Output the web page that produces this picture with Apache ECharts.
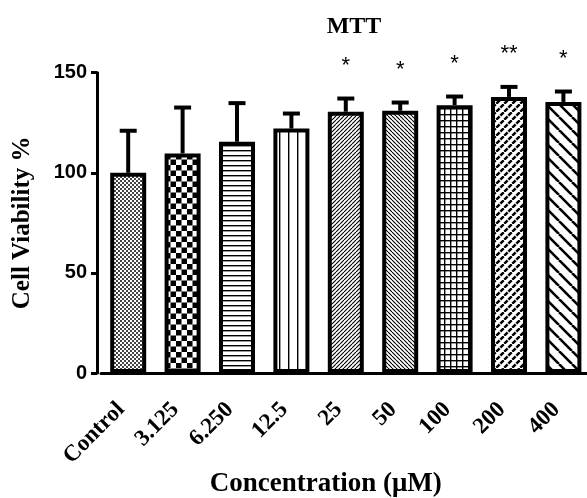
<!DOCTYPE html>
<html><head><meta charset="utf-8">
<script src="https://cdn.jsdelivr.net/npm/echarts@6/dist/echarts.min.js"></script>
<style>html,body{margin:0;padding:0;background:#fff}#c{width:587px;height:498px}</style>
</head><body><div id="c"></div>
<script>
const categories = ['Control','3.125','6.250','12.5','25','50','100','200','400'];
const means = [100, 109.7, 115.5, 122.1, 130.5, 131, 133.8, 137.9, 135.4];
const sds = [21, 22.9, 19.3, 7.5, 6.6, 4.1, 4.3, 5.0, 5.2];
const stars = ['', '', '', '', '*', '*', '*', '**', '*'];
const yTicks = [0, 50, 100, 150];
const patternNames = ['fineChecker','checker','hLines','vLines','fwdFine','backFine','grid','weave','backWide'];

function makePattern(name){
  const c = document.createElement('canvas');
  const sizes = {fineChecker:4, checker:11, hLines:5, vLines:9, fwdFine:4, backFine:4, grid:6, weave:8, backWide:13};
  const s = sizes[name];
  c.width = s; c.height = s;
  const g = c.getContext('2d');
  g.fillStyle = '#fff'; g.fillRect(0,0,s,s);
  g.fillStyle = '#000'; g.strokeStyle = '#000';
  function diag(back, w){
    g.lineWidth = w; g.beginPath();
    for (let k=-1;k<=1;k++){
      if (back){ g.moveTo(k*s,0); g.lineTo(k*s+s,s); }
      else { g.moveTo(k*s,s); g.lineTo(k*s+s,0); }
    }
    g.stroke();
  }
  if (name==='fineChecker'){ g.fillStyle='#444'; g.fillRect(0,0,2,2); g.fillRect(2,2,2,2); }
  else if (name==='checker'){ const h=Math.floor(s/2); g.fillRect(0,0,h+0.5,h+0.5); g.fillRect(h+0.5,h+0.5,s,s); }
  else if (name==='hLines'){ g.fillRect(0,0,s,1.4); }
  else if (name==='vLines'){ g.fillRect(0,0,1.4,s); }
  else if (name==='fwdFine'){ diag(false,1.1); }
  else if (name==='backFine'){ diag(true,1.1); }
  else if (name==='grid'){ g.fillRect(0,0,s,1.4); g.fillRect(0,0,1.4,s); }
  else if (name==='weave'){ diag(false,2.6); g.strokeStyle='#fff'; diag(true,1.2); }
  else if (name==='backWide'){ diag(true,2.6); }
  return c;
}

const barData = means.map((v,i)=>({value:v, itemStyle:{color:{image:makePattern(patternNames[i]), repeat:'repeat'}}}));
const errData = means.map((v,i)=>[i, v, v+sds[i]]);

const chart = echarts.init(document.getElementById('c'), null, {renderer:'canvas'});
chart.setOption({
  animation:false,
  backgroundColor:'#fff',
  graphic:[{type:'text', x:354, y:15, style:{text:'MTT', font:'bold 24px "Liberation Serif"', fill:'#000', textAlign:'center'}}],
  grid:{left:101, top:72.7, width:489.6, height:300.3, containLabel:false, outerBoundsMode:'none'},
  xAxis:{
    type:'category', data:categories,
    axisLine:{lineStyle:{color:'#000', width:3}},
    axisTick:{alignWithLabel:true, length:7, lineStyle:{color:'#000', width:3}},
    axisLabel:{rotate:45, margin:26, padding:[0,10,0,0], color:'#000', fontFamily:'Liberation Serif', fontWeight:'bold', fontSize:23},
    name:'Concentration (μM)', nameLocation:'middle', nameGap:98, nameMoveOverlap:false,
    nameTextStyle:{color:'#000', fontFamily:'Liberation Serif', fontWeight:'bold', fontSize:27, padding:[0,40,0,0]}
  },
  yAxis:{
    type:'value', min:0, max:150, interval:50, offset:4,
    splitLine:{show:false},
    axisLine:{show:true, lineStyle:{color:'#000', width:3}},
    axisTick:{show:true, length:6, lineStyle:{color:'#000', width:3}},
    axisLabel:{margin:10, color:'#000', fontFamily:'Liberation Sans', fontWeight:'bold', fontSize:20,
      formatter:(v)=> yTicks.indexOf(v)>=0 ? String(v) : ''},
    name:'Cell Viability %', nameLocation:'middle', nameGap:62, nameRotate:90, nameMoveOverlap:false,
    nameTextStyle:{color:'#000', fontFamily:'Liberation Serif', fontWeight:'bold', fontSize:25}
  },
  series:[
    {type:'custom', z:1, data:errData,
      renderItem:function(params, api){
        const i = api.value(0);
        const p0 = api.coord([i, api.value(1)]);
        const p1 = api.coord([i, api.value(2)]);
        const half = 8.5;
        const children = [
          {type:'line', shape:{x1:p0[0], y1:p0[1], x2:p1[0], y2:p1[1]}, style:{stroke:'#000', lineWidth:4}},
          {type:'line', shape:{x1:p1[0]-half, y1:p1[1], x2:p1[0]+half, y2:p1[1]}, style:{stroke:'#000', lineWidth:4}}
        ];
        const st = stars[params.dataIndex];
        if (st){
          children.push({type:'text', x:p1[0], y:p1[1]-33, style:{text:st, font:'22px "Liberation Sans"', fill:'#000', textAlign:'center', textVerticalAlign:'middle'}});
        }
        return {type:'group', children};
      }
    },
    {type:'bar', z:2, data:barData, barWidth:36,
      itemStyle:{borderColor:'#000', borderWidth:4}}
  ]
});
</script></body></html>
